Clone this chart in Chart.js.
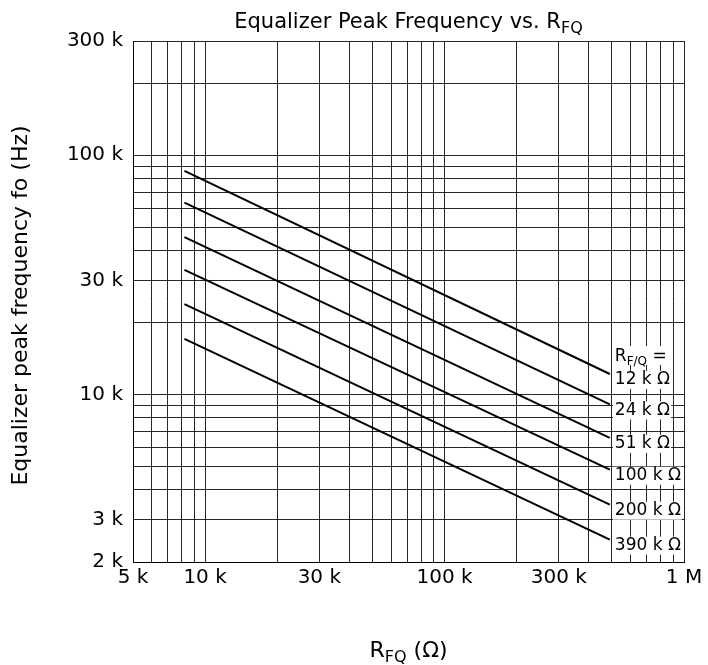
<!DOCTYPE html>
<html><head><meta charset="utf-8">
<script src="https://cdn.jsdelivr.net/npm/chart.js@4"></script>
<style>html,body{margin:0;padding:0;background:#fff}canvas{display:block}</style>
</head><body>
<canvas id="c" width="708" height="665"></canvas>
<script>
// ---- data ----
const rfq = [8200, 490000];                       // R_FQ (ohm) at start / end of each line
const rfqLabels = ['12 k Ω','24 k Ω','51 k Ω','100 k Ω','200 k Ω','390 k Ω'];
const f12k  = [86000, 12200];
const f24k  = [63400, 9100];
const f51k  = [45500, 6600];
const f100k = [33200, 4860];
const f200k = [23900, 3470];
const f390k = [17100, 2480];
const seriesValues = [f12k, f24k, f51k, f100k, f200k, f390k];

const xGrid = [5000,6000,7000,8000,9000,10000,20000,30000,40000,50000,60000,70000,80000,90000,
               100000,200000,300000,400000,500000,600000,700000,800000,900000,1000000];
const yGrid = [2000,3000,4000,5000,6000,7000,8000,9000,10000,20000,30000,40000,50000,60000,70000,80000,90000,
               100000,200000,300000];
const xTickText = {5000:'5 k',10000:'10 k',30000:'30 k',100000:'100 k',300000:'300 k',1000000:'1 M'};
const yTickText = {2000:'2 k',3000:'3 k',10000:'10 k',30000:'30 k',100000:'100 k',300000:'300 k'};

const FONT = '"DejaVu Sans", Arial, Helvetica, sans-serif';

function drawSub(ctx, parts, x, y, align) {
  let total = 0;
  parts.forEach(p => { ctx.font = p.size + 'px ' + FONT; p.w = ctx.measureText(p.t).width; total += p.w; });
  let cx = align === 'center' ? x - total / 2 : x;
  ctx.textAlign = 'left';
  ctx.textBaseline = 'alphabetic';
  parts.forEach(p => { ctx.font = p.size + 'px ' + FONT; ctx.fillText(p.t, cx, y + (p.dy || 0)); cx += p.w; });
  return total;
}

const textPlugin = {
  id: 'textPlugin',
  afterDraw(chart) {
    const ctx = chart.ctx, ca = chart.chartArea;
    const xs = chart.scales.x, ys = chart.scales.y;
    ctx.save();
    ctx.fillStyle = '#000';
    const cx = (ca.left + ca.right) / 2;
    // title
    drawSub(ctx, [{t:'Equalizer Peak Frequency vs. R', size:21}, {t:'FQ', size:16, dy:5}], cx, 28, 'center');
    // x title
    drawSub(ctx, [{t:'R', size:22}, {t:'FQ', size:16, dy:5}, {t:' (Ω)', size:22}], cx, 657, 'center');
    // y title
    ctx.save();
    ctx.translate(27, (ca.top + ca.bottom) / 2 + 4);
    ctx.rotate(-Math.PI / 2);
    ctx.font = '22px ' + FONT;
    ctx.textAlign = 'center';
    ctx.textBaseline = 'alphabetic';
    ctx.fillText('Equalizer peak frequency fo (Hz)', 0, 0);
    ctx.restore();
    // curve labels
    const lx = xs.getPixelForValue(rfq[1]) + 5;
    const hy = ys.getPixelForValue(f12k[1]) - 19;
    ctx.font = '17px ' + FONT;
    const hw = ctx.measureText('R').width;
    ctx.font = '12px ' + FONT;
    const hw2 = ctx.measureText('F/Q').width;
    ctx.font = '17px ' + FONT;
    const hw3 = ctx.measureText(' =').width;
    ctx.fillStyle = '#fff';
    ctx.fillRect(lx - 2, hy - 9, hw + hw2 + hw3 + 4, 19);
    ctx.fillStyle = '#000';
    drawSub(ctx, [{t:'R', size:17}, {t:'F/Q', size:12, dy:4}, {t:' =', size:17}], lx, hy + 6, 'left');
    seriesValues.forEach((vals, i) => {
      const y = ys.getPixelForValue(vals[1]) + 6;
      ctx.font = '17px ' + FONT;
      const w = ctx.measureText(rfqLabels[i]).width;
      ctx.fillStyle = '#fff';
      ctx.fillRect(lx - 2, y - 9, w + 3, 18);
      ctx.fillStyle = '#000';
      ctx.textAlign = 'left';
      ctx.textBaseline = 'middle';
      ctx.fillText(rfqLabels[i], lx, y);
    });
    ctx.restore();
  }
};

const gridColor = 'rgba(0,0,0,0.85)';

new Chart(document.getElementById('c'), {
  type: 'line',
  data: {
    datasets: seriesValues.map((vals, i) => ({
      label: rfqLabels[i],
      data: rfq.map((x, j) => ({x: x, y: vals[j]})),
      borderColor: '#000',
      borderWidth: 2,
      pointRadius: 0,
      fill: false,
      tension: 0
    }))
  },
  options: {
    responsive: false,
    animation: false,
    devicePixelRatio: 1,
    layout: { padding: { top: 41, right: 24, left: 0, bottom: 0 } },
    plugins: { legend: { display: false }, title: { display: false }, tooltip: { enabled: false } },
    scales: {
      x: {
        type: 'logarithmic', min: 5000, max: 1000000,
        afterBuildTicks: s => { s.ticks = xGrid.map(v => ({ value: v })); },
        afterFit: s => { s.height = 103; },
        ticks: { autoSkip: false, maxRotation: 0, minRotation: 0, padding: 4, color: '#000',
                 font: { family: FONT, size: 20 }, callback: v => xTickText[v] || '' },
        grid: { color: gridColor, lineWidth: 1, drawTicks: false },
        border: { display: true, color: '#000', width: 1 }
      },
      y: {
        type: 'logarithmic', min: 2000, max: 300000,
        afterBuildTicks: s => { s.ticks = yGrid.map(v => ({ value: v })); },
        afterFit: s => { s.width = 133; },
        ticks: { autoSkip: false, padding: 10, color: '#000',
                 font: { family: FONT, size: 20 }, callback: v => yTickText[v] || '' },
        grid: { color: gridColor, lineWidth: 1, drawTicks: false },
        border: { display: true, color: '#000', width: 1 }
      }
    }
  },
  plugins: [textPlugin]
});
</script>
</body></html>
